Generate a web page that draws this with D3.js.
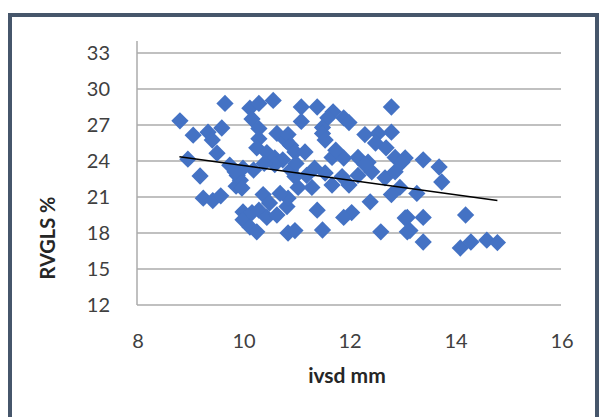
<!DOCTYPE html>
<html>
<head>
<meta charset="utf-8">
<script src="https://cdn.jsdelivr.net/npm/d3@7"></script>
<style>
  body { margin: 0; background: #fff; }
  text { font-family: Lato, "Open Sans", sans-serif; }
</style>
</head>
<body>
<svg id="chart" width="600" height="417"></svg>
<script>
"use strict";

// ivsd (mm) values
var ivsd = [
  8.81, 8.96, 9.06, 9.19, 9.25, 9.34, 9.42, 9.43, 9.51, 9.58, 9.6, 9.66, 9.75, 9.87, 9.95,
  9.89, 9.98, 10.0, 10.0, 10.13, 10.26, 10.17, 10.3, 10.45, 10.38, 10.5, 10.64, 10.83, 10.85,
  10.13, 10.3, 10.57, 10.17, 10.3, 10.3, 10.26, 10.45, 10.6, 10.64, 10.81, 10.85, 10.9, 10.98,
  11.1, 11.4, 12.8, 11.7, 11.9, 12.0, 11.6, 11.5, 11.5, 11.55, 12.3, 12.55, 12.5, 12.8, 12.7,
  11.17, 11.68, 11.9, 12.17, 12.36, 12.87, 13.06, 11.75,
  13.0, 13.4, 13.7, 13.75, 12.96, 13.28, 13.1, 13.4, 13.15, 14.2, 13.4, 14.1, 14.3, 14.6, 14.8,
  11.04, 11.3, 10.85, 11.68, 12.0, 12.4, 12.8, 11.4, 12.05, 11.9, 10.98, 11.5, 12.6, 13.06, 13.1,
  10.98, 11.55, 11.87, 12.17, 12.68, 12.87, 12.43,
  10.75, 10.9, 10.6, 11.0, 11.2, 11.35, 10.4, 10.2, 10.0, 9.85, 12.3, 11.1, 10.7
];

// RVGLS (%) values, same order
var rvgls = [
  27.35, 24.15, 26.15, 22.75, 20.9, 26.4, 25.75, 20.7, 24.65, 21.1, 26.75, 28.8, 23.65, 21.9, 22.4,
  22.8, 21.75, 19.75, 19.1, 18.5, 18.1, 19.7, 19.9, 19.3, 21.2, 20.5, 19.5, 20.2, 18.0,
  28.4, 28.8, 29.05, 27.5, 26.7, 25.85, 25.1, 24.7, 24.25, 26.3, 25.7, 26.2, 25.3, 24.75,
  28.5, 28.5, 28.5, 28.1, 27.6, 27.2, 27.6, 26.8, 26.3, 25.75, 26.2, 26.3, 25.5, 26.4, 25.1,
  24.75, 24.3, 24.25, 24.3, 23.9, 24.3, 24.25, 24.9,
  23.9, 24.1, 23.5, 22.25, 21.8, 21.3, 19.3, 19.3, 18.2, 19.5, 17.25, 16.75, 17.25, 17.4, 17.2,
  21.8, 21.8, 20.9, 22.0, 22.0, 20.6, 21.2, 19.9, 19.7, 19.3, 18.2, 18.25, 18.1, 19.25, 18.1,
  22.7, 23.0, 22.7, 22.8, 22.6, 23.1, 23.1,
  24.1, 23.25, 23.7, 23.8, 22.8, 23.4, 23.8, 23.25, 23.4, 23.1, 23.7, 27.3, 21.3
];

// linear trend line ends
var trendX = [8.8, 14.8];
var trendY = [24.35, 20.7];

var xTicks = [8, 10, 12, 14, 16];
var yTicks = [12, 15, 18, 21, 24, 27, 30, 33];

var svg = d3.select("#chart");

// outer frame
svg.append("rect")
  .attr("x", 10).attr("y", 15)
  .attr("width", 587).attr("height", 420)
  .attr("fill", "none")
  .attr("stroke", "#46566B")
  .attr("stroke-width", 4);

var x = d3.scaleLinear().domain([8, 16]).range([137, 561]);
var y = d3.scaleLinear().domain([12, 33]).range([305, 53]);

// gridlines
svg.append("g").selectAll("line")
  .data(yTicks)
  .enter().append("line")
  .attr("x1", x(8)).attr("x2", x(16))
  .attr("y1", d => y(d)).attr("y2", d => y(d))
  .attr("stroke", "#ABABAB")
  .attr("stroke-width", 1.5);

// y axis line
svg.append("line")
  .attr("x1", x(8)).attr("x2", x(8))
  .attr("y1", 41).attr("y2", y(12))
  .attr("stroke", "#ABABAB")
  .attr("stroke-width", 1.5);

// tick labels
svg.append("g").selectAll("text")
  .data(yTicks)
  .enter().append("text")
  .attr("x", 110).attr("y", d => y(d) + 7)
  .attr("text-anchor", "end")
  .attr("font-size", 20)
  .attr("fill", "#404040")
  .text(d => d);

svg.append("g").selectAll("text")
  .data(xTicks)
  .enter().append("text")
  .attr("x", d => x(d) + 1).attr("y", 348)
  .attr("text-anchor", "middle")
  .attr("font-size", 20)
  .attr("fill", "#404040")
  .text(d => d);

// axis titles
svg.append("text")
  .attr("transform", "translate(55,238) rotate(-90)")
  .attr("text-anchor", "middle")
  .attr("font-size", 20)
  .attr("font-weight", "bold")
  .attr("fill", "#262626")
  .text("RVGLS %");

svg.append("text")
  .attr("x", 347).attr("y", 383)
  .attr("text-anchor", "middle")
  .attr("font-size", 21)
  .attr("font-weight", "bold")
  .attr("fill", "#262626")
  .text("ivsd mm");

// diamonds
var pts = ivsd.map((v, i) => [v, rvgls[i]]);
var diamond = d3.symbol().type(d3.symbolDiamond2).size(190);

svg.append("g").selectAll("path")
  .data(pts)
  .enter().append("path")
  .attr("transform", d => "translate(" + x(d[0]) + "," + y(d[1]) + ")")
  .attr("d", diamond)
  .attr("fill", "#4472C4");

// trend line
svg.append("line")
  .attr("x1", x(trendX[0])).attr("y1", y(trendY[0]))
  .attr("x2", x(trendX[1])).attr("y2", y(trendY[1]))
  .attr("stroke", "#000")
  .attr("stroke-width", 1.5);
</script>
</body>
</html>
